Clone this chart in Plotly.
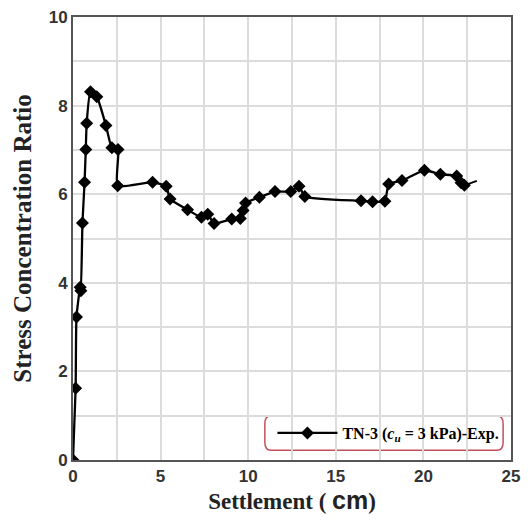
import plotly.graph_objects as go

settlement = [0.0, 0.15, 0.2, 0.41, 0.45, 0.54, 0.66, 0.73, 0.78, 1.0, 1.36, 1.88, 2.22, 2.57, 2.55,
              4.54, 5.32, 5.54, 6.54, 7.33, 7.69, 8.05, 9.06, 9.55, 9.71, 9.85, 10.64,
              11.53, 12.43, 12.9, 13.23, 16.44, 17.1, 17.8, 18.02, 18.78, 20.06, 20.97,
              21.9, 22.15, 22.34]
scr = [0.0, 1.62, 3.23, 3.9, 3.82, 5.35, 6.27, 7.01, 7.6, 8.31, 8.2, 7.55, 7.05, 7.01, 6.19,
       6.27, 6.18, 5.89, 5.65, 5.48, 5.55, 5.34, 5.44, 5.45, 5.63, 5.8, 5.93,
       6.06, 6.06, 6.18, 5.95, 5.85, 5.83, 5.84, 6.23, 6.31, 6.54, 6.45,
       6.41, 6.26, 6.2]
line_end_x = [22.34, 23.05]
line_end_y = [6.2, 6.3]

fig = go.Figure()
fig.add_trace(go.Scatter(
    x=line_end_x, y=line_end_y, mode="lines",
    line=dict(color="black", width=2), showlegend=False, hoverinfo="skip"))
fig.add_trace(go.Scatter(
    x=settlement, y=scr, mode="lines+markers",
    name="<b>TN-3 (<i>c<sub>u</sub></i> = 3 kPa)-Exp.</b>",
    line=dict(color="black", width=2.3, shape="spline", smoothing=0.5),
    marker=dict(symbol="diamond", size=10, color="black")))

# rounded legend frame
fig.add_shape(type="path", xref="paper", yref="paper", layer="below",
              path="M 0.452,0.022 L 0.968,0.022 Q 0.982,0.022 0.982,0.04 L 0.982,0.082 Q 0.982,0.1 0.968,0.1 "
                   "L 0.452,0.1 Q 0.438,0.1 0.438,0.082 L 0.438,0.04 Q 0.438,0.022 0.452,0.022 Z",
              line=dict(color="#c0505a", width=1.5), fillcolor="white")

fig.update_layout(
    width=528, height=520,
    margin=dict(l=73, r=8, t=13, b=60),
    paper_bgcolor="white", plot_bgcolor="white",
    legend=dict(x=0.985, y=0.061, xanchor="right", yanchor="middle",
                borderwidth=0, bgcolor="rgba(0,0,0,0)", itemwidth=60,
                font=dict(family="Liberation Serif", size=16, color="black")),
    xaxis=dict(range=[0, 25], dtick=5, tick0=0, showgrid=True, gridcolor="#dcdcdc", gridwidth=1.5,
               minor=dict(dtick=2.5, showgrid=True, gridcolor="#dcdcdc", gridwidth=1.5),
               showline=True, linecolor="#555", linewidth=2, mirror=True, ticks="",
               zeroline=False,
               tickfont=dict(family="Liberation Sans", size=17, color="#333", weight="bold"),
               title=dict(text="Settlement ( <span style='font-family:Liberation Sans;font-size:25px'>cm</span>)",
                          font=dict(family="Liberation Serif", size=23, color="#222", weight="bold"),
                          standoff=4)),
    yaxis=dict(range=[0, 10], dtick=2, tick0=0, showgrid=True, gridcolor="#dcdcdc", gridwidth=1.5,
               minor=dict(dtick=1, showgrid=True, gridcolor="#dcdcdc", gridwidth=1.5),
               showline=True, linecolor="#555", linewidth=2, mirror=True, ticks="",
               zeroline=False,
               tickfont=dict(family="Liberation Sans", size=17, color="#333", weight="bold"),
               title=dict(text="Stress Concentration Ratio",
                          font=dict(family="Liberation Serif", size=25, color="#222", weight="bold"),
                          standoff=10)),
)
fig.write_html("out.html")
